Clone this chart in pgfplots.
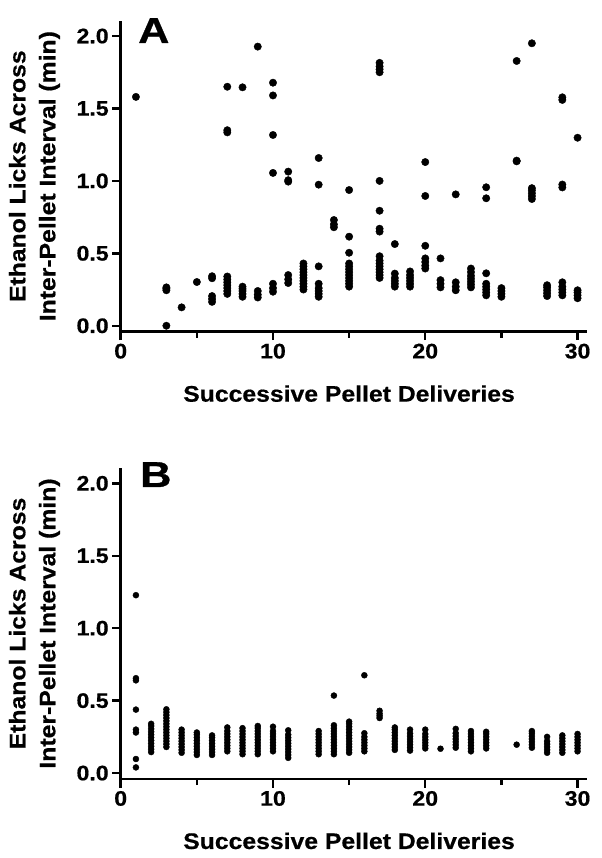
\documentclass[border=0pt]{standalone}
\usepackage{fontspec}
\setmainfont{Liberation Sans}[FakeStretch=1.1, BoldFeatures={FakeStretch=1.1, FakeBold=0.6}]
\newfontfamily\letterfont{Liberation Sans}[FakeStretch=1.2, BoldFeatures={FakeStretch=1.2, FakeBold=0.8}]
\usepackage{pgfplots}
\pgfplotsset{compat=1.18}
\pgfplotsset{
  myaxis/.style={
    scale only axis, width=466bp, height=311bp,
    xmin=0, xmax=30.6, ymin=-0.041, ymax=2.106,
    axis x line*=bottom, axis y line*=left,
    axis line style={line width=2.8bp, black},
    xtick={0,10,20,30}, minor xtick={5,15,25},
    ytick={0,0.5,1,1.5,2},
    tick align=outside, major tick length=8.5bp, minor tick length=6bp,
    every tick/.append style={black, line width=2.4bp},
    /pgf/number format/assume math mode=true,
    yticklabel={\pgfmathprintnumber[fixed,fixed zerofill,precision=1]{\tick}},
    tick label style={font=\fontsize{21bp}{21bp}\selectfont\bfseries},
    label style={font=\fontsize{22.5bp}{30bp}\selectfont\bfseries},
    xlabel={Successive Pellet Deliveries},
    ylabel={Ethanol Licks Across\\Inter-Pellet Interval (min)},
    ylabel style={align=center, at={(axis description cs:-0.185,0.5)}, anchor=center},
    xlabel style={at={(axis description cs:0.49,-0.225)}, anchor=base},
    clip=false,
  }
}
\begin{document}
\begin{tikzpicture}
\useasboundingbox (0,0) rectangle (602bp,858bp);
% Panel A
\begin{axis}[myaxis, at={(120.7bp,526.3bp)}, anchor=south west]
\addplot[only marks, mark=*, mark size=3.7bp, black] coordinates {
(1,1.58)
(3,0.00) (3,0.245) (3,0.255) (3,0.265)
(4,0.127) (5,0.302)
(6,0.328) (6,0.342) (6,0.165) (6,0.185) (6,0.205)
(7,1.65) (7,1.335) (7,1.35) (7,0.22) (7,0.24) (7,0.26) (7,0.28) (7,0.30) (7,0.32) (7,0.34)
(8,1.646) (8,0.20) (8,0.22) (8,0.24) (8,0.255) (8,0.27)
(9,1.927) (9,0.195) (9,0.215) (9,0.24)
(10,1.678) (10,1.59) (10,1.317) (10,1.055) (10,0.235) (10,0.26) (10,0.29)
(11,1.064) (11,0.995) (11,1.005) (11,0.295) (11,0.32) (11,0.35)
(12,0.25) (12,0.27) (12,0.29) (12,0.31) (12,0.33) (12,0.35) (12,0.37) (12,0.39) (12,0.41) (12,0.43)
(13,1.158) (13,0.974) (13,0.41) (13,0.20) (13,0.22) (13,0.24) (13,0.26) (13,0.29)
(14,0.68) (14,0.70) (14,0.73)
(15,0.937) (15,0.615) (15,0.504) (15,0.27) (15,0.29) (15,0.31) (15,0.33) (15,0.35) (15,0.37) (15,0.39) (15,0.41) (15,0.43)
(17,1.75) (17,1.77) (17,1.79) (17,1.815) (17,1.0) (17,0.794) (17,0.65) (17,0.67)
(17,0.33) (17,0.35) (17,0.37) (17,0.39) (17,0.41) (17,0.43) (17,0.45) (17,0.48)
(18,0.564) (18,0.27) (18,0.29) (18,0.31) (18,0.33) (18,0.36)
(19,0.27) (19,0.29) (19,0.31) (19,0.33) (19,0.35) (19,0.375)
(20,1.13) (20,0.896) (20,0.552) (20,0.395) (20,0.415) (20,0.44) (20,0.465)
(21,0.465) (21,0.265) (21,0.29) (21,0.315)
(22,0.907) (22,0.245) (22,0.27) (22,0.30)
(23,0.265) (23,0.285) (23,0.305) (23,0.325) (23,0.345) (23,0.37) (23,0.395)
(24,0.956) (24,0.88) (24,0.362) (24,0.21) (24,0.23) (24,0.25) (24,0.27) (24,0.29)
(25,0.20) (25,0.22) (25,0.24) (25,0.26)
(26,1.828) (26,1.135) (26,1.14)
(27,1.95) (27,0.875) (27,0.895) (27,0.915) (27,0.935) (27,0.95)
(28,0.205) (28,0.225) (28,0.245) (28,0.265) (28,0.28)
(29,1.577) (29,1.559) (29,0.955) (29,0.975) (29,0.21) (29,0.23) (29,0.25) (29,0.27) (29,0.30)
(30,1.298) (30,0.19) (30,0.21) (30,0.23) (30,0.245)
};
\end{axis}
% Panel B
\begin{axis}[myaxis, at={(120.7bp,79bp)}, anchor=south west]
\addplot[only marks, mark=*, mark size=3.0bp, black] coordinates {
(1,1.228) (1,0.64) (1,0.655) (1,0.438) (1,0.28) (1,0.30) (1,0.097) (1,0.039)
(2,0.145) (2,0.165) (2,0.185) (2,0.205) (2,0.225) (2,0.245) (2,0.265) (2,0.285) (2,0.305) (2,0.325) (2,0.34)
(3,0.18) (3,0.20) (3,0.22) (3,0.24) (3,0.26) (3,0.28) (3,0.30) (3,0.32) (3,0.34) (3,0.36) (3,0.38) (3,0.40) (3,0.42) (3,0.44)
(4,0.14) (4,0.16) (4,0.18) (4,0.20) (4,0.22) (4,0.24) (4,0.26) (4,0.28) (4,0.30)
(5,0.125) (5,0.145) (5,0.165) (5,0.185) (5,0.205) (5,0.225) (5,0.245) (5,0.265) (5,0.28)
(6,0.125) (6,0.145) (6,0.165) (6,0.185) (6,0.205) (6,0.225) (6,0.245) (6,0.26)
(7,0.15) (7,0.17) (7,0.19) (7,0.21) (7,0.23) (7,0.25) (7,0.27) (7,0.29) (7,0.315)
(8,0.13) (8,0.15) (8,0.17) (8,0.19) (8,0.21) (8,0.23) (8,0.25) (8,0.27) (8,0.29) (8,0.31)
(9,0.13) (9,0.15) (9,0.17) (9,0.19) (9,0.21) (9,0.23) (9,0.25) (9,0.27) (9,0.29) (9,0.31) (9,0.325)
(10,0.15) (10,0.17) (10,0.19) (10,0.21) (10,0.23) (10,0.25) (10,0.27) (10,0.29) (10,0.32)
(11,0.105) (11,0.125) (11,0.145) (11,0.165) (11,0.185) (11,0.205) (11,0.225) (11,0.245) (11,0.265) (11,0.295)
(13,0.13) (13,0.15) (13,0.17) (13,0.19) (13,0.21) (13,0.23) (13,0.25) (13,0.27) (13,0.29)
(14,0.535) (14,0.13) (14,0.15) (14,0.17) (14,0.19) (14,0.21) (14,0.23) (14,0.25) (14,0.27) (14,0.29) (14,0.31) (14,0.33)
(15,0.14) (15,0.16) (15,0.18) (15,0.20) (15,0.22) (15,0.24) (15,0.26) (15,0.28) (15,0.30) (15,0.32) (15,0.34) (15,0.355)
(16,0.675) (16,0.15) (16,0.17) (16,0.19) (16,0.21) (16,0.23) (16,0.25) (16,0.275)
(17,0.38) (17,0.395) (17,0.41) (17,0.43)
(18,0.16) (18,0.18) (18,0.20) (18,0.22) (18,0.24) (18,0.26) (18,0.28) (18,0.30) (18,0.315)
(19,0.155) (19,0.175) (19,0.195) (19,0.215) (19,0.235) (19,0.255) (19,0.275) (19,0.30)
(20,0.17) (20,0.19) (20,0.21) (20,0.23) (20,0.25) (20,0.27) (20,0.30)
(21,0.168)
(22,0.175) (22,0.195) (22,0.215) (22,0.235) (22,0.255) (22,0.275) (22,0.305)
(23,0.15) (23,0.17) (23,0.19) (23,0.21) (23,0.23) (23,0.25) (23,0.27) (23,0.29)
(24,0.17) (24,0.19) (24,0.21) (24,0.23) (24,0.25) (24,0.27) (24,0.285)
(26,0.196)
(27,0.175) (27,0.195) (27,0.215) (27,0.235) (27,0.255) (27,0.275) (27,0.29)
(28,0.14) (28,0.16) (28,0.18) (28,0.20) (28,0.22) (28,0.25)
(29,0.14) (29,0.16) (29,0.18) (29,0.20) (29,0.22) (29,0.24) (29,0.26)
(30,0.15) (30,0.17) (30,0.19) (30,0.21) (30,0.23) (30,0.25) (30,0.27)
};
\end{axis}
\node[anchor=base west, inner sep=0pt, font=\fontsize{36bp}{36bp}\letterfont\bfseries] at (138bp,815bp) {A};
\node[anchor=base west, inner sep=0pt, font=\fontsize{36bp}{36bp}\letterfont\bfseries] at (140bp,371bp) {B};
\end{tikzpicture}
\end{document}
